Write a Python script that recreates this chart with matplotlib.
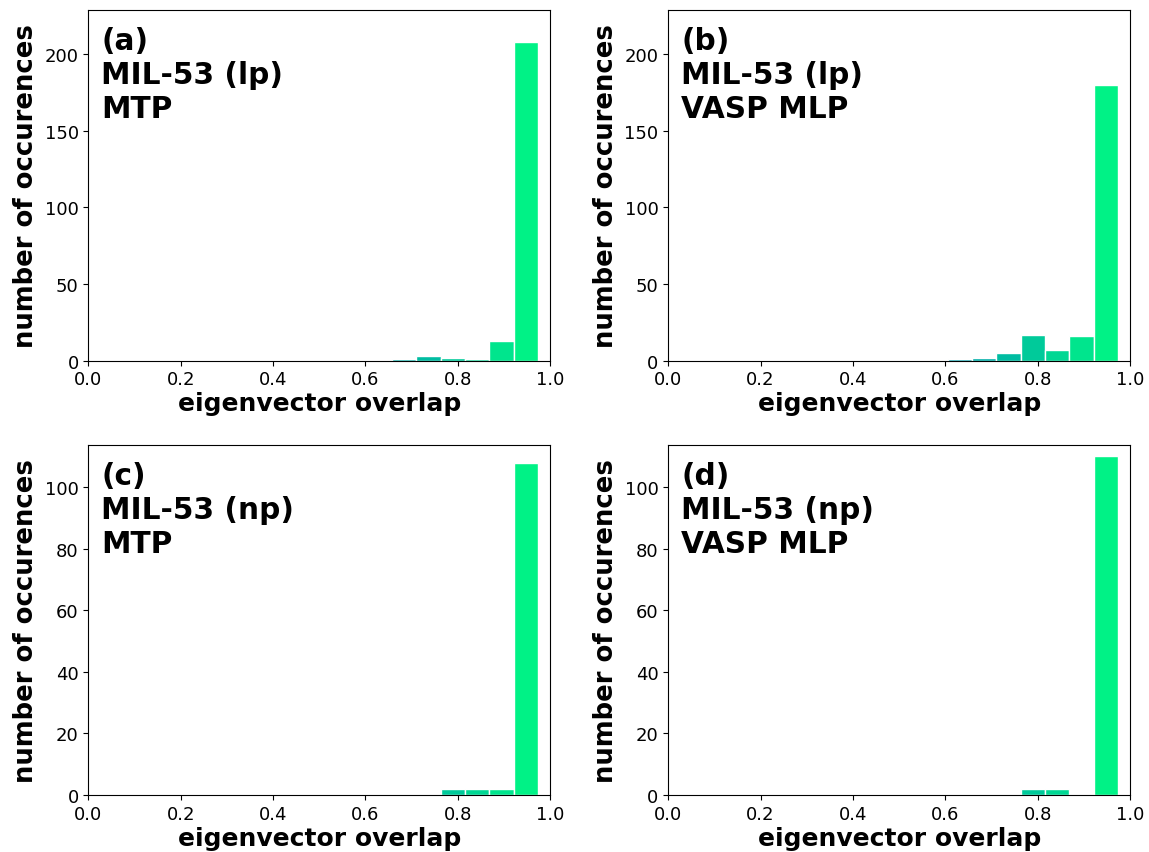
import numpy as np
import matplotlib
matplotlib.use("Agg")
import matplotlib.pyplot as plt

# bin centres k/19 (bins of width 1/19 ending just below 1.0)
bin_centres = np.arange(12, 19) / 19.0

counts_a = [0, 1, 3, 2, 1, 13, 208]    # MIL-53 (lp) MTP
counts_b = [1, 2, 5, 17, 7, 16, 180]   # MIL-53 (lp) VASP MLP
counts_c = [0, 0, 0, 2, 2, 2, 108]     # MIL-53 (np) MTP
counts_d = [0, 0, 0, 2, 2, 0, 110]     # MIL-53 (np) VASP MLP

labels = ["(a)\nMIL-53 (lp)\nMTP", "(b)\nMIL-53 (lp)\nVASP MLP",
          "(c)\nMIL-53 (np)\nMTP", "(d)\nMIL-53 (np)\nVASP MLP"]
all_counts = [counts_a, counts_b, counts_c, counts_d]
ymax = [228.7, 228.7, 113.7, 113.7]

fig = plt.figure(figsize=(11.49, 8.53), dpi=100)
positions = [
    [0.0769, 0.576, 0.4018, 0.411],
    [0.5816, 0.576, 0.4019, 0.411],
    [0.0769, 0.0668, 0.4018, 0.4103],
    [0.5816, 0.0668, 0.4019, 0.4103],
]
cmap = plt.get_cmap("winter")

for pos, counts, label, top in zip(positions, all_counts, labels, ymax):
    ax = fig.add_axes(pos)
    counts = np.array(counts)
    keep = counts > 0
    ax.bar(bin_centres[keep], counts[keep], width=1 / 19.0,
           color=cmap(bin_centres[keep]), edgecolor="white", linewidth=1)
    ax.set_xlim(0, 1)
    ax.set_ylim(0, top)
    ax.set_xticks([0.0, 0.2, 0.4, 0.6, 0.8, 1.0])
    ax.tick_params(labelsize=13)
    ax.set_xlabel("eigenvector overlap", fontsize=18, fontweight="bold",
                  labelpad=2)
    ax.set_ylabel("number of occurences", fontsize=18.6, fontweight="bold")
    ax.text(0.028, 0.955, label, transform=ax.transAxes, ha="left", va="top",
            fontsize=21.3, fontweight="bold", linespacing=1.22)

fig.savefig("out.png", dpi=100)
